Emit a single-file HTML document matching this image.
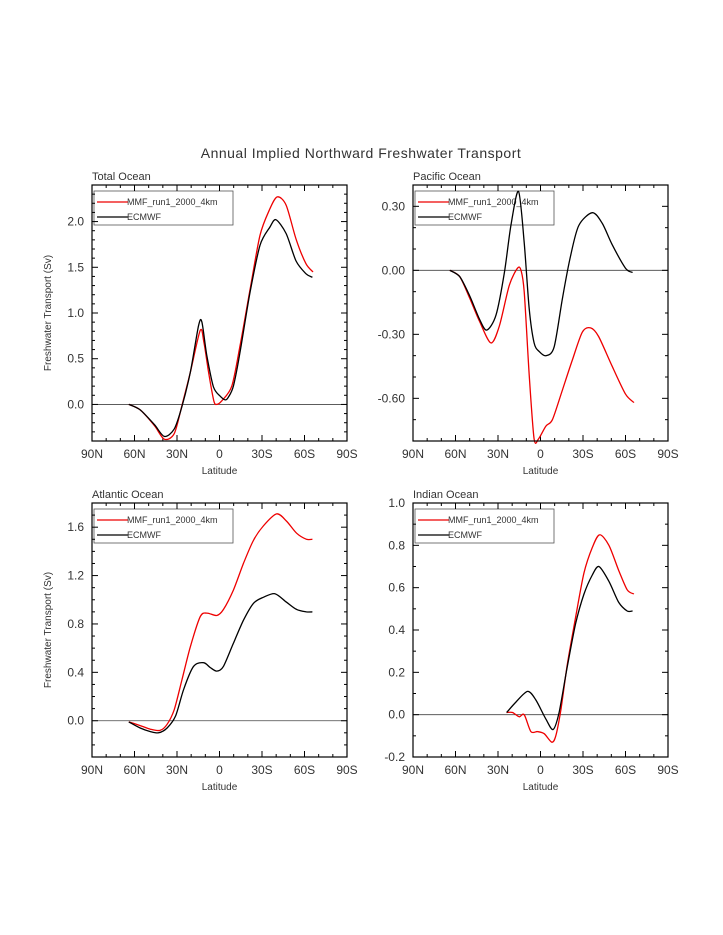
<!DOCTYPE html>
<html><head><meta charset="utf-8"><style>
body{margin:0;background:#fff;width:723px;height:935px;overflow:hidden}
svg{display:block;font-family:"Liberation Sans",sans-serif}
</style></head><body>
<svg id="fig" width="723" height="935" viewBox="0 0 723 935">
<text x="361" y="158" text-anchor="middle" font-size="14" fill="#333" letter-spacing="0.5">Annual Implied Northward Freshwater Transport</text>
</svg>
<script>
// Latitudes: positive = North
const totalRedLat=[64,56,46,39,32,26.5,20.6,13.6,11,7.7,4,2,-1.6,-8.7,-14.5,-21.6,-28.6,-35.6,-40.8,-47,-54,-61,-66];
const totalRedVal=[0,-0.06,-0.23,-0.38,-0.32,-0.01,0.35,0.81,0.68,0.35,0.04,0,0.04,0.2,0.64,1.26,1.85,2.14,2.27,2.18,1.81,1.54,1.45];
const totalBlkLat=[64,56,46,39,32,26.5,20.6,14.8,12.4,8.9,4.2,-0.5,-4,-6.3,-9.8,-14.5,-21.6,-28.6,-35.6,-39.8,-47,-54,-61,-65.6];
const totalBlkVal=[0,-0.06,-0.22,-0.35,-0.27,-0.02,0.35,0.86,0.90,0.53,0.19,0.09,0.05,0.08,0.2,0.57,1.23,1.74,1.94,2.02,1.87,1.57,1.43,1.39];
const pacBlkLat=[64,57,50,43,38,31.4,25.5,20.9,15.5,11.5,8,4.5,1,-3.8,-9.6,-15.5,-21.3,-27,-36.6,-43.6,-50.6,-60,-65];
const pacBlkVal=[0,-0.03,-0.12,-0.23,-0.28,-0.21,-0.01,0.21,0.37,0.13,-0.18,-0.34,-0.38,-0.40,-0.36,-0.13,0.07,0.21,0.27,0.22,0.12,0.01,-0.01];
const pacRedLat=[64,57,50,43,35,29,22,16.2,13.8,11.5,8,4.5,1.4,-3.8,-8.4,-15.5,-22.5,-29.5,-35.4,-41,-50.6,-60,-66];
const pacRedVal=[0,-0.03,-0.13,-0.24,-0.34,-0.26,-0.07,0.01,0,-0.10,-0.49,-0.79,-0.79,-0.73,-0.70,-0.56,-0.42,-0.29,-0.27,-0.31,-0.45,-0.58,-0.62];
const atlRedLat=[64,56,48.75,42,37,32,26.5,20.6,13.6,8.9,1.9,-2.8,-9.8,-16.9,-23.9,-30.9,-40.3,-47.3,-54.4,-61.4,-65.6];
const atlRedVal=[-0.01,-0.04,-0.07,-0.08,-0.03,0.09,0.34,0.61,0.86,0.89,0.87,0.92,1.08,1.30,1.49,1.61,1.71,1.65,1.55,1.50,1.50];
const atlBlkLat=[64,56,48.75,43,37,31,25.3,18.3,11.25,6.6,1.9,-2.8,-9.8,-16.9,-23.9,-30.9,-39.1,-47.3,-54.4,-61.4,-65.6];
const atlBlkVal=[-0.01,-0.06,-0.09,-0.10,-0.06,0.04,0.26,0.45,0.48,0.44,0.41,0.45,0.64,0.83,0.97,1.02,1.05,0.98,0.92,0.90,0.90];
const indBlkLat=[23.9,17.3,9.1,3.3,-3.75,-8.9,-13.1,-19,-24.8,-30.7,-36.6,-41.25,-48.3,-55.3,-61.2,-65];
const indBlkVal=[0.01,0.06,0.11,0.07,-0.02,-0.07,0.01,0.23,0.43,0.57,0.66,0.70,0.63,0.53,0.49,0.49];
const indRedLat=[23.9,19.7,15,11.5,6.8,2.1,-2.6,-8,-10.8,-14.3,-19,-24.8,-30.7,-36.6,-41.7,-48.3,-55.3,-61.2,-65.9];
const indRedVal=[0.01,0.01,-0.01,0,-0.08,-0.08,-0.09,-0.13,-0.10,0.02,0.24,0.46,0.67,0.79,0.85,0.80,0.68,0.59,0.57];
const xTickLabels=["90N","60N","30N","0","30S","60S","90S"];
const xTickLats=[90,60,30,0,-30,-60,-90];

const NS='http://www.w3.org/2000/svg';
const svg=document.getElementById('fig');
function mk(tag,attrs,parent){const e=document.createElementNS(NS,tag);for(const k in attrs)e.setAttribute(k,attrs[k]);(parent||svg).appendChild(e);return e;}
function smooth(pts){let d='M'+pts[0][0].toFixed(1)+','+pts[0][1].toFixed(1);
 const k=1/7;
 for(let i=0;i<pts.length-1;i++){const p0=pts[i-1]||pts[i],p1=pts[i],p2=pts[i+1],p3=pts[i+2]||p2;
 const c1=[p1[0]+(p2[0]-p0[0])*k,p1[1]+(p2[1]-p0[1])*k],c2=[p2[0]-(p3[0]-p1[0])*k,p2[1]-(p3[1]-p1[1])*k];
 d+='C'+c1[0].toFixed(1)+','+c1[1].toFixed(1)+' '+c2[0].toFixed(1)+','+c2[1].toFixed(1)+' '+p2[0].toFixed(1)+','+p2[1].toFixed(1);}
 return d;}
function panel(cfg){
 const g=mk('g',{});
 
 
 const L=cfg.x,R=cfg.x+255,T=cfg.y,B=cfg.y+cfg.h;
 const xs=lat=>L+(90-lat)/180*255;
 const ys=v=>B-(v-cfg.ymin)/(cfg.ymax-cfg.ymin)*cfg.h;
 const t=mk('text',{x:L,y:T-5,'font-size':11,fill:'#333'},g);t.textContent=cfg.title;
 
 
 // legend (drawn beneath curves)
 const lg=mk('g',{},g);
 
 
 mk('rect',{x:L+2,y:T+6,width:139,height:34,fill:'#fff',stroke:'#555','stroke-width':0.8},lg);
 [['MMF_run1_2000_4km','#e00'],['ECMWF','#000']].forEach((e,i)=>{const yy=T+17+i*15;
  mk('line',{x1:L+5,x2:L+36,y1:yy,y2:yy,stroke:e[1],'stroke-width':1.3},lg);
  const te=mk('text',{x:L+35,y:yy+3,'font-size':9,fill:'#333'},lg);te.textContent=e[0];
  
  });
 // zero line
 const z=mk('line',{x1:L,x2:R,y1:ys(0),y2:ys(0),stroke:'#444','stroke-width':0.8},g);
 
 
 // x ticks
 for(let lat=90;lat>=-90;lat-=10){const x=xs(lat),maj=lat%30===0,len=maj?6:3;
  mk('line',{x1:x,x2:x,y1:B,y2:B-len,stroke:'#000','stroke-width':1},g);
  mk('line',{x1:x,x2:x,y1:T,y2:T+len,stroke:'#000','stroke-width':1},g);}
 xTickLats.forEach((lat,i)=>{const tx=mk('text',{x:xs(lat),y:B+17,'text-anchor':'middle','font-size':12,fill:'#333'},g);tx.textContent=xTickLabels[i];
  
  });
 const xl=mk('text',{x:(L+R)/2,y:B+33,'text-anchor':'middle','font-size':10,fill:'#333'},g);xl.textContent='Latitude';
 
 
 // y ticks
 const n=Math.round((cfg.ymax-cfg.ymin)/cfg.minor);
 for(let i=0;i<=n;i++){const v=cfg.ymin+i*cfg.minor,y=ys(v);
  const maj=Math.abs(((v-cfg.major0)/cfg.major)-Math.round((v-cfg.major0)/cfg.major))<1e-6,len=maj?6:3;
  mk('line',{x1:L,x2:L+len,y1:y,y2:y,stroke:'#000','stroke-width':1},g);
  mk('line',{x1:R,x2:R-len,y1:y,y2:y,stroke:'#000','stroke-width':1},g);}
 cfg.yLabels.forEach((lab,i)=>{const ty=mk('text',{x:L-8,y:ys(cfg.yVals[i])+4,'text-anchor':'end','font-size':12,fill:'#333'},g);ty.textContent=lab;
  
  });
 if(cfg.ylabel){const yl=mk('text',{x:0,y:0,'text-anchor':'middle','font-size':10,fill:'#333',transform:`translate(51,${(T+B)/2}) rotate(-90)`},g);yl.textContent='Freshwater Transport (Sv)';
  
  }
 // series
 cfg.series.forEach(s=>{const pts=s.lat.map((la,i)=>[xs(la),ys(s.val[i])]);
  const p=mk('path',{d:smooth(pts),fill:'none',stroke:s.color,'stroke-width':1.3},g);
  
  });
 // frame
 const fr=mk('rect',{x:L,y:T,width:255,height:cfg.h,fill:'none',stroke:'#000','stroke-width':1.2},g);
 
 
}
panel({name:'total-ocean-panel',title:'Total Ocean',x:92,y:185,h:256,ymin:-0.4,ymax:2.4,minor:0.1,major:0.5,major0:0,ylabel:true,
 yVals:[0,0.5,1,1.5,2],yLabels:['0.0','0.5','1.0','1.5','2.0'],
 series:[{name:'total-mmf-line',lat:totalRedLat,val:totalRedVal,color:'#e00'},{name:'total-ecmwf-line',lat:totalBlkLat,val:totalBlkVal,color:'#000'}]});
panel({name:'pacific-ocean-panel',title:'Pacific Ocean',x:413,y:185,h:256,ymin:-0.8,ymax:0.4,minor:0.1,major:0.3,major0:0,ylabel:false,
 yVals:[0.3,0,-0.3,-0.6],yLabels:['0.30','0.00','-0.30','-0.60'],
 series:[{name:'pacific-mmf-line',lat:pacRedLat,val:pacRedVal,color:'#e00'},{name:'pacific-ecmwf-line',lat:pacBlkLat,val:pacBlkVal,color:'#000'}]});
panel({name:'atlantic-ocean-panel',title:'Atlantic Ocean',x:92,y:503,h:254,ymin:-0.3,ymax:1.8,minor:0.1,major:0.4,major0:0,ylabel:true,
 yVals:[0,0.4,0.8,1.2,1.6],yLabels:['0.0','0.4','0.8','1.2','1.6'],
 series:[{name:'atlantic-mmf-line',lat:atlRedLat,val:atlRedVal,color:'#e00'},{name:'atlantic-ecmwf-line',lat:atlBlkLat,val:atlBlkVal,color:'#000'}]});
panel({name:'indian-ocean-panel',title:'Indian Ocean',x:413,y:503,h:254,ymin:-0.2,ymax:1.0,minor:0.1,major:0.2,major0:0,ylabel:false,
 yVals:[-0.2,0,0.2,0.4,0.6,0.8,1.0],yLabels:['-0.2','0.0','0.2','0.4','0.6','0.8','1.0'],
 series:[{name:'indian-mmf-line',lat:indRedLat,val:indRedVal,color:'#e00'},{name:'indian-ecmwf-line',lat:indBlkLat,val:indBlkVal,color:'#000'}]});
</script>
</body></html>
